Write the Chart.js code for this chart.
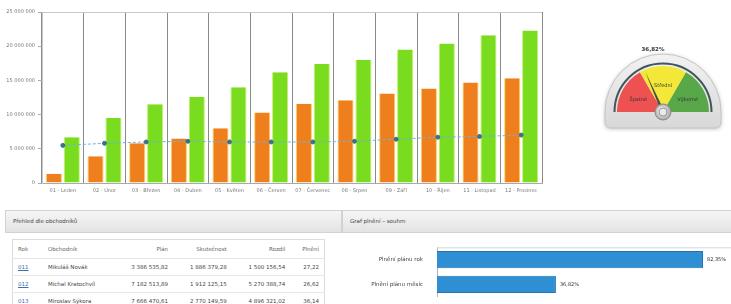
<!DOCTYPE html>
<html>
<head>
<meta charset="utf-8">
<script src="https://cdn.jsdelivr.net/npm/chart.js@4.4.0/dist/chart.umd.min.js"></script>
<style>
  html, body { margin: 0; padding: 0; background: #fff; width: 731px; height: 304px; overflow: hidden;
    font-family: "DejaVu Sans", sans-serif; }
  .box { position: absolute; }
  #mainBox { left: 0; top: 0; width: 560px; height: 200px; }
  #gaugeBox { left: 600px; top: 40px; width: 126px; height: 92px; }
  #hbarBox { left: 340px; top: 238px; width: 420px; height: 68px; }
  .hdr { position: absolute; top: 210px; height: 23px; box-sizing: border-box;
    background: linear-gradient(#f6f6f6, #e3e3e3); border: 1px solid #d2d2d2;
    font-size: 5.5px; color: #444; line-height: 21px; padding-left: 7px; }
  #hdrLeft { left: 5px; width: 337px; }
  #hdrRight { left: 342px; width: 395px; }
  #tbl { position: absolute; left: 12px; top: 239px; width: 313px; border: 1px solid #dcdcdc;
    border-collapse: collapse; font-size: 5.5px; color: #444; }
  #tbl th { font-weight: normal; color: #666; height: 18px; text-align: right; padding: 0 5px;
    border-bottom: 1px solid #e4e4e4; }
  #tbl td { height: 16px; text-align: right; padding: 0 5px; border-bottom: 1px solid #e8e8e8; white-space: nowrap; }
  #tbl .l { text-align: left; }
  #tbl a { color: #3a6fb0; text-decoration: underline; }
</style>
</head>
<body>
<div class="box" id="mainBox"><canvas id="mainChart"></canvas></div>
<div class="box" id="gaugeBox"><canvas id="gaugeChart"></canvas></div>

<div class="hdr" id="hdrLeft">Přehled dle obchodníků</div>
<div class="hdr" id="hdrRight">Graf plnění – souhrn</div>

<table id="tbl">
  <thead><tr>
    <th class="l" style="width:20px">Rok</th>
    <th class="l">Obchodník</th>
    <th>Plán</th>
    <th>Skutečnost</th>
    <th>Rozdíl</th>
    <th>Plnění</th>
  </tr></thead>
  <tbody id="tblBody"></tbody>
</table>

<div class="box" id="hbarBox"><canvas id="hbarChart"></canvas></div>

<script>
// hodnoty
var categories = ['01 - Leden', '02 - Únor', '03 - Březen', '04 - Duben', '05 - Květen', '06 - Červen',
                  '07 - Červenec', '08 - Srpen', '09 - Září', '10 - Říjen', '11 - Listopad', '12 - Prosinec'];
var actualValues = [1340000, 3900000, 5800000, 6500000, 8000000, 10300000,
                    11600000, 12100000, 13100000, 13800000, 14700000, 15300000];
var planValues = [6700000, 9500000, 11500000, 12600000, 14000000, 16200000,
                  17400000, 18000000, 19500000, 20400000, 21600000, 22300000];
var avgValues = [5500000, 5800000, 6000000, 6100000, 6000000, 6000000,
                 6000000, 6100000, 6400000, 6700000, 6800000, 7000000];
var yTicks = [0, 5000000, 10000000, 15000000, 20000000, 25000000];

var gaugeBands = [33.3, 33.4, 33.3];
var gaugeLabels = ['Špatné', 'Střední', 'Výborné'];
var gaugeValue = 36.82;

var hbarLabels = ['Plnění plánu rok', 'Plnění plánu měsíc'];
var hbarValues = [82.35, 36.82];

var tblIds = ['011', '012', '013'];
var tblNames = ['Mikuláš Novák', 'Michal Kratochvíl', 'Miroslav Sýkora'];
var tblPlan = ['3 386 535,82', '7 182 513,89', '7 666 470,61'];
var tblReal = ['1 886 379,28', '1 912 125,15', '2 770 149,59'];
var tblDiff = ['1 500 156,54', '5 270 388,74', '4 896 321,02'];
var tblPct = ['27,22', '26,62', '36,14'];

function fmt(v) { return String(v).replace(/\B(?=(\d{3})+(?!\d))/g, ' '); }

Chart.defaults.font.family = '"DejaVu Sans", sans-serif';
Chart.defaults.font.size = 5.5;
Chart.defaults.color = '#777';
Chart.defaults.animation = false;

// tabulka
var tb = document.getElementById('tblBody');
for (var i = 0; i < tblIds.length; i++) {
  var tr = document.createElement('tr');
  tr.innerHTML = '<td class="l"><a>' + tblIds[i] + '</a></td><td class="l">' + tblNames[i] + '</td><td>' +
    tblPlan[i] + '</td><td>' + tblReal[i] + '</td><td>' + tblDiff[i] + '</td><td>' + tblPct[i] + '</td>';
  tb.appendChild(tr);
}

// hlavní graf
new Chart(document.getElementById('mainChart'), {
  data: {
    labels: categories,
    datasets: [
      { type: 'line', label: 'Průměr', data: avgValues, order: 0,
        borderColor: '#6cb2e4', borderWidth: 1, borderDash: [3, 2], fill: false, tension: 0,
        pointRadius: 2, pointBackgroundColor: '#3a7186', pointBorderColor: '#3a7186' },
      { type: 'bar', label: 'Skutečnost', data: actualValues, order: 1,
        backgroundColor: '#ef7f1c', borderColor: '#f7d25a', borderWidth: { left: 1, right: 1, top: 0, bottom: 0 },
        barPercentage: 0.9, categoryPercentage: 0.86 },
      { type: 'bar', label: 'Plán', data: planValues, order: 1,
        backgroundColor: '#79dc1e', borderColor: '#c9ee6a', borderWidth: { left: 1, right: 1, top: 0, bottom: 0 },
        barPercentage: 0.9, categoryPercentage: 0.86 }
    ]
  },
  options: {
    responsive: true, maintainAspectRatio: false, events: [],
    layout: { padding: { top: 12, right: 18, left: 0, bottom: 0 } },
    plugins: { legend: { display: false }, tooltip: { enabled: false } },
    scales: {
      x: {
        grid: { color: '#8a8a8a', lineWidth: 1, drawTicks: false },
        border: { color: '#aaa' },
        ticks: { autoSkip: false, maxRotation: 0, padding: 5, color: '#777', font: { size: 5 } },
        afterFit: function (s) { s.height = 17; }
      },
      y: {
        min: 0, max: 25000000,
        afterBuildTicks: function (s) { s.ticks = yTicks.map(function (v) { return { value: v }; }); },
        grid: {
          color: function (c) { return c.tick && c.tick.value === 25000000 ? '#c8c8c8' : 'rgba(0,0,0,0)'; },
          tickColor: '#aaa', tickLength: 4
        },
        border: { color: '#c8c8c8' },
        ticks: { padding: 3, color: '#777', font: { size: 5 }, callback: function (v) { return fmt(v); } },
        afterFit: function (s) { s.width = 42; }
      }
    }
  }
});

// budík
var gaugePlugin = {
  id: 'gaugeDeco',
  beforeDatasetsDraw: function (chart) {
    var arc = chart.getDatasetMeta(0).data[0];
    var ctx = chart.ctx, cx = arc.x, cy = arc.y, r = arc.outerRadius;
    var R = r + 12, bottom = cy + 16;
    ctx.save();
    ctx.shadowColor = 'rgba(0,0,0,0.25)'; ctx.shadowBlur = 4; ctx.shadowOffsetY = 1;
    ctx.beginPath();
    ctx.arc(cx, cy, R, Math.PI, 2 * Math.PI);
    ctx.lineTo(cx + R, bottom - 6);
    ctx.quadraticCurveTo(cx + R, bottom, cx + R - 6, bottom);
    ctx.lineTo(cx - R + 6, bottom);
    ctx.quadraticCurveTo(cx - R, bottom, cx - R, bottom - 6);
    ctx.closePath();
    var g = ctx.createLinearGradient(0, cy - R, 0, bottom);
    g.addColorStop(0, '#f2f2f2'); g.addColorStop(1, '#d8d8d8');
    ctx.fillStyle = g; ctx.fill();
    ctx.shadowColor = 'transparent';
    ctx.strokeStyle = '#c4c4c4'; ctx.lineWidth = 1; ctx.stroke();
    ctx.beginPath();
    ctx.arc(cx, cy, r + 2.5, Math.PI, 2 * Math.PI);
    ctx.strokeStyle = '#41575e'; ctx.lineWidth = 2; ctx.stroke();
    ctx.restore();
  },
  afterDatasetsDraw: function (chart) {
    var meta = chart.getDatasetMeta(0);
    var arc = meta.data[0];
    var ctx = chart.ctx, cx = arc.x, cy = arc.y, r = arc.outerRadius;
    ctx.save();
    ctx.font = '5px "DejaVu Sans"'; ctx.fillStyle = '#333';
    ctx.textAlign = 'center'; ctx.textBaseline = 'middle';
    meta.data.forEach(function (a, i) {
      var m = (a.startAngle + a.endAngle) / 2;
      ctx.fillText(gaugeLabels[i], cx + Math.cos(m) * r * 0.62, cy + Math.sin(m) * r * 0.62 + 2);
    });
    // ručička
    var ang = Math.PI + Math.PI * gaugeValue / 100;
    var tipX = cx + Math.cos(ang) * (r - 2), tipY = cy + Math.sin(ang) * (r - 2);
    var nx = -Math.sin(ang) * 1.6, ny = Math.cos(ang) * 1.6;
    ctx.beginPath();
    ctx.moveTo(cx + nx, cy + ny); ctx.lineTo(tipX, tipY); ctx.lineTo(cx - nx, cy - ny);
    ctx.closePath(); ctx.fillStyle = '#4d4d4d'; ctx.fill();
    // střed
    var hg = ctx.createRadialGradient(cx - 2, cy - 2, 1, cx, cy, 8);
    hg.addColorStop(0, '#fafafa'); hg.addColorStop(1, '#a9a9a9');
    ctx.beginPath(); ctx.arc(cx, cy, 8, 0, 2 * Math.PI); ctx.fillStyle = hg; ctx.fill();
    ctx.strokeStyle = '#8a8a8a'; ctx.lineWidth = 1; ctx.stroke();
    ctx.beginPath(); ctx.arc(cx, cy, 4, 0, 2 * Math.PI); ctx.fillStyle = '#e9e9e9'; ctx.fill();
    ctx.strokeStyle = '#999'; ctx.stroke();
    // hodnota
    ctx.font = 'bold 5.5px "DejaVu Sans"'; ctx.fillStyle = '#333';
    ctx.fillText(gaugeValue.toFixed(2).replace('.', ',') + '%', cx - 10, cy - r - 16);
    ctx.restore();
  }
};

new Chart(document.getElementById('gaugeChart'), {
  type: 'doughnut',
  data: {
    labels: gaugeLabels,
    datasets: [{ data: gaugeBands, backgroundColor: ['#ee5151', '#f3e838', '#58a84a'], borderWidth: 0 }]
  },
  options: {
    responsive: true, maintainAspectRatio: false, events: [],
    rotation: -90, circumference: 180, cutout: '12%',
    layout: { padding: { left: 17, right: 17, top: 26, bottom: 20 } },
    plugins: { legend: { display: false }, tooltip: { enabled: false } }
  },
  plugins: [gaugePlugin]
});

// vodorovný sloupcový graf
var hbarPlugin = {
  id: 'hbarDeco',
  afterDatasetsDraw: function (chart) {
    var ctx = chart.ctx, a = chart.chartArea;
    ctx.save();
    ctx.strokeStyle = '#d8d8d8'; ctx.lineWidth = 1;
    ctx.beginPath(); ctx.moveTo(a.left, a.top + 0.5); ctx.lineTo(a.right, a.top + 0.5); ctx.stroke();
    ctx.font = '5px "DejaVu Sans"'; ctx.fillStyle = '#333'; ctx.textBaseline = 'middle';
    chart.getDatasetMeta(0).data.forEach(function (b, i) {
      ctx.fillText(hbarValues[i].toFixed(2).replace('.', ',') + '%', b.x + 4, b.y);
    });
    ctx.restore();
  }
};

new Chart(document.getElementById('hbarChart'), {
  type: 'bar',
  data: {
    labels: hbarLabels,
    datasets: [{
      data: hbarValues, backgroundColor: '#2e8fd4', borderColor: '#2374ae', borderWidth: 1,
      borderSkipped: 'left', barPercentage: 0.7, categoryPercentage: 1
    }]
  },
  options: {
    indexAxis: 'y', responsive: true, maintainAspectRatio: false, events: [],
    layout: { padding: { top: 8, right: 0, left: 0, bottom: 0 } },
    plugins: { legend: { display: false }, tooltip: { enabled: false } },
    scales: {
      x: { display: false, min: 0, max: 100 },
      y: {
        grid: { display: false }, border: { color: '#b5b5b5' },
        ticks: { color: '#444', padding: 6 },
        afterFit: function (s) { s.width = 97; }
      }
    }
  },
  plugins: [hbarPlugin]
});
</script>
</body>
</html>
